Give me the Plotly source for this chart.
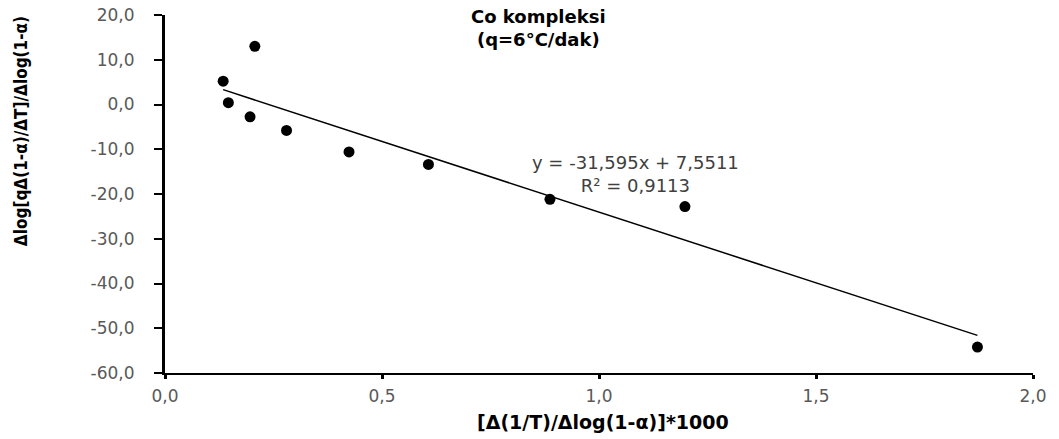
import plotly.graph_objects as go

# Measured points
x_vals = [0.134, 0.146, 0.196, 0.207, 0.280, 0.424, 0.607, 0.887, 1.198, 1.872]
y_vals = [5.2, 0.4, -2.75, 13.0, -5.8, -10.6, -13.4, -21.2, -22.8, -54.2]

# Linear trendline coefficients
slope = -31.595
intercept = 7.5511
r_squared = 0.9113

x_ticks = [0.0, 0.5, 1.0, 1.5, 2.0]
x_tick_text = ["0,0", "0,5", "1,0", "1,5", "2,0"]
y_ticks = [20, 10, 0, -10, -20, -30, -40, -50, -60]
y_tick_text = ["20,0", "10,0", "0,0", "-10,0", "-20,0", "-30,0", "-40,0", "-50,0", "-60,0"]

x_line = [min(x_vals), max(x_vals)]
y_line = [slope * v + intercept for v in x_line]

fig = go.Figure()
fig.add_trace(go.Scatter(
    x=x_line, y=y_line, mode="lines",
    line=dict(color="black", width=1.5),
    hoverinfo="skip", showlegend=False,
))
fig.add_trace(go.Scatter(
    x=x_vals, y=y_vals, mode="markers",
    marker=dict(color="black", size=11, symbol="circle"),
    showlegend=False,
))

tick_font = dict(family="DejaVu Sans", size=17, color="#595959")

fig.update_layout(
    template="none",
    width=1059, height=439,
    margin=dict(l=165, r=26, t=15, b=66, pad=0),
    paper_bgcolor="white", plot_bgcolor="white",
    xaxis=dict(
        range=[0, 2.0], tickmode="array", tickvals=x_ticks, ticktext=x_tick_text,
        showgrid=False, zeroline=False,
        showline=True, linecolor="#000000", linewidth=2,
        ticks="outside", ticklen=4, tickwidth=3, tickcolor="#000000",
        tickfont=tick_font, ticklabelstandoff=3,
        layer="above traces",
    ),
    yaxis=dict(
        range=[-60, 20], tickmode="array", tickvals=y_ticks, ticktext=y_tick_text,
        showgrid=False, zeroline=False,
        showline=True, linecolor="#000000", linewidth=3,
        ticks="outside", ticklen=8, tickwidth=2, tickcolor="#000000",
        tickfont=tick_font, ticklabelstandoff=16,
        layer="above traces",
    ),
    annotations=[
        dict(text="<b>Co kompleksi</b><br><b>(q=6°C/dak)</b>",
             xref="paper", yref="paper", x=0.43, y=1.031, yanchor="top",
             showarrow=False, font=dict(family="DejaVu Sans", size=18, color="black"),
             align="center"),
        dict(text="<b>[Δ(1/T)/Δlog(1-α)]*1000</b>",
             xref="paper", yref="paper", x=0.505, y=-0.138, yanchor="middle",
             showarrow=False, font=dict(family="DejaVu Sans", size=19, color="black")),
        dict(text="<b>Δlog[qΔ(1-α)/ΔT]/Δlog(1-α)</b>",
             xref="paper", yref="paper", x=-0.165, y=0.675, textangle=-90,
             xanchor="center", yanchor="middle",
             showarrow=False,
             font=dict(family="Liberation Sans Narrow, DejaVu Sans Condensed", size=17, color="black")),
        dict(text="y = -31,595x + 7,5511<br>R² = 0,9113",
             x=1.083, y=-15.6, xref="x", yref="y", xanchor="center", yanchor="middle",
             showarrow=False, align="center",
             font=dict(family="DejaVu Sans", size=18, color="#404040")),
    ],
)

fig.write_html("out.html")
